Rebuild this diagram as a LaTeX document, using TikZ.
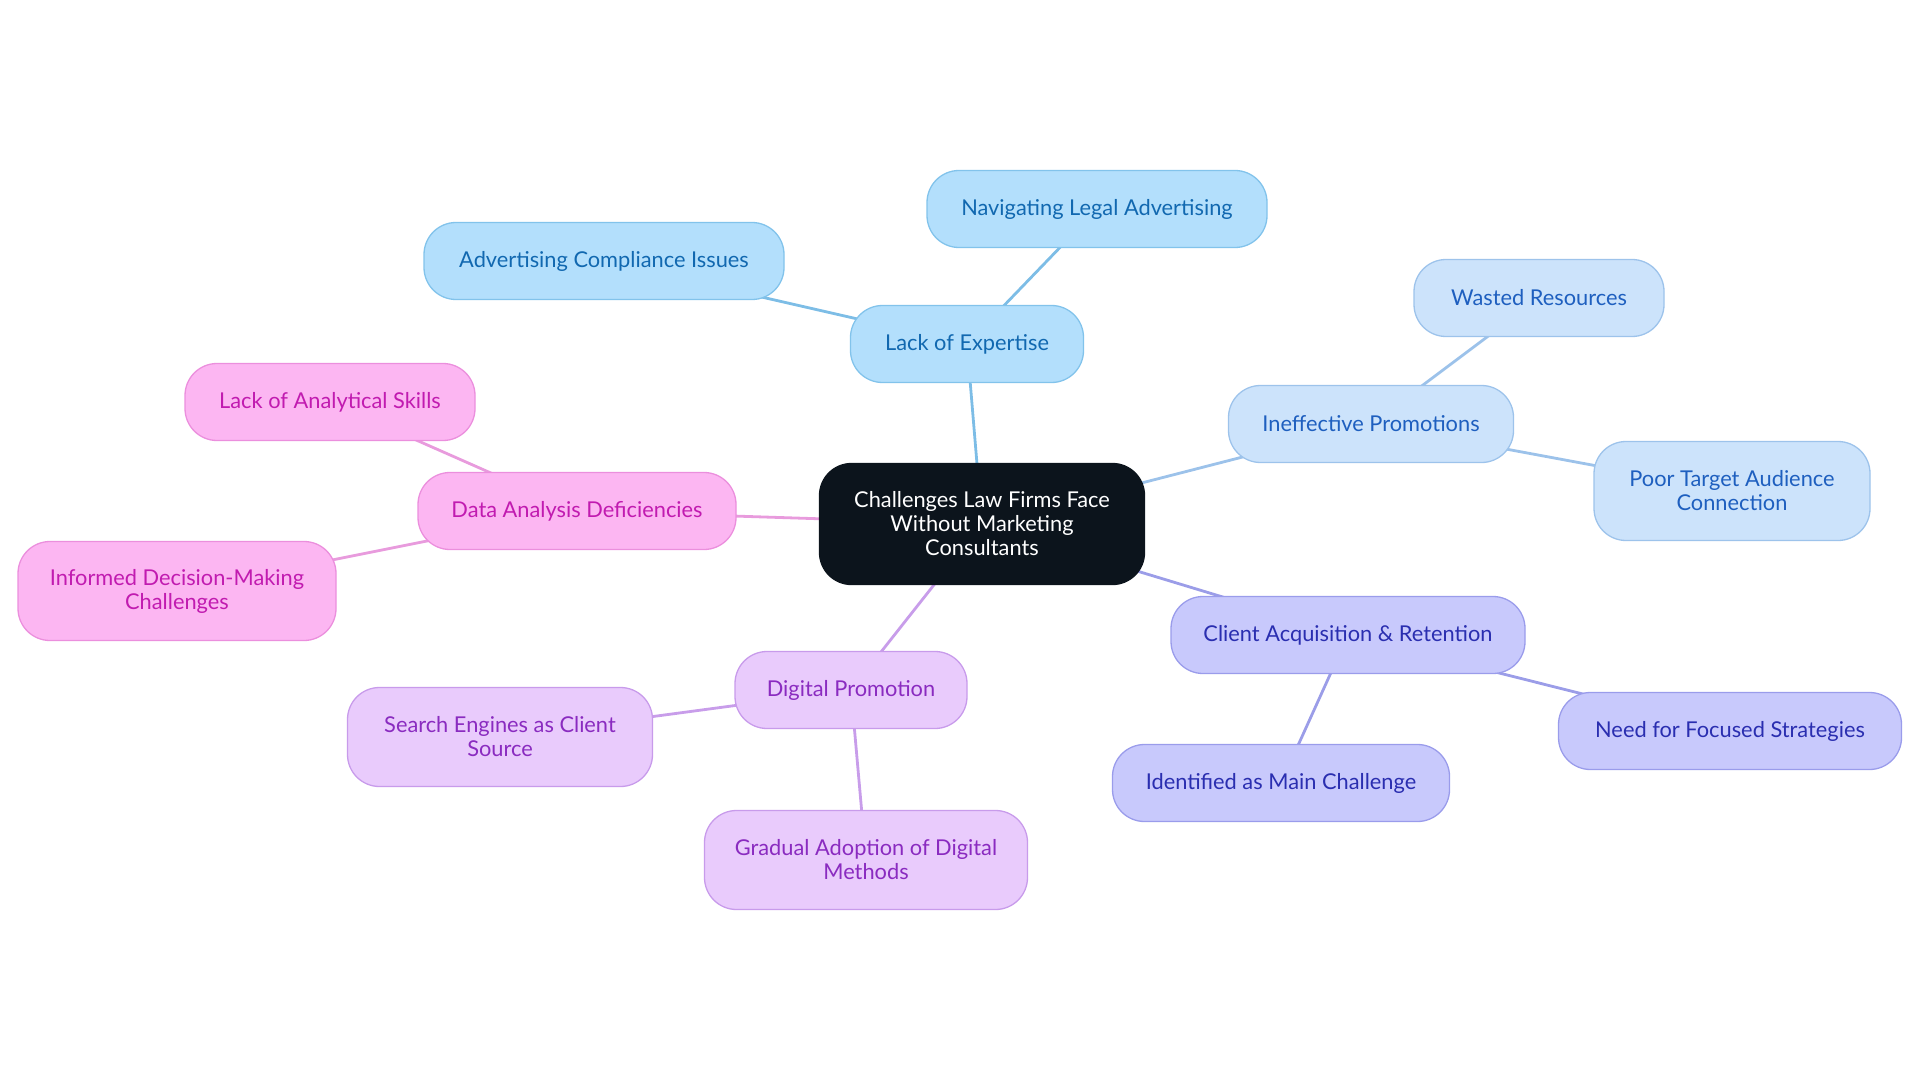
\documentclass[tikz,border=0pt]{standalone}
\usepackage{fontspec}
\setmainfont{Lato}
\usetikzlibrary{backgrounds}
\definecolor{cfill}{HTML}{0C141C}
\definecolor{bfill}{HTML}{B3DFFC}\definecolor{bdraw}{HTML}{82C3EB}\definecolor{btext}{HTML}{1168B0}\definecolor{bedge}{HTML}{7DBDE6}
\definecolor{lfill}{HTML}{CCE3FB}\definecolor{ldraw}{HTML}{9DC3EB}\definecolor{ltext}{HTML}{1E5FBF}\definecolor{ledge}{HTML}{9CC2EA}
\definecolor{ifill}{HTML}{C8C9FC}\definecolor{idraw}{HTML}{9A9CEB}\definecolor{itext}{HTML}{2A2EB0}\definecolor{iedge}{HTML}{9B9DE8}
\definecolor{vfill}{HTML}{E9CBFC}\definecolor{vdraw}{HTML}{C89BEB}\definecolor{vtext}{HTML}{8A2BC0}\definecolor{vedge}{HTML}{C89DEA}
\definecolor{pfill}{HTML}{FCB6F2}\definecolor{pdraw}{HTML}{EB8FDD}\definecolor{ptext}{HTML}{C11BB0}\definecolor{pedge}{HTML}{E89BDD}
\tikzset{
  box/.style={rectangle, rounded corners=32pt, line width=1.3pt, minimum height=77pt, align=center, inner sep=0pt,
    font=\fontsize{21.8}{24}\selectfont},
  tall/.style={minimum height=99pt},
  bbox/.style={box, fill=bfill, draw=bdraw, text=btext},
  lbox/.style={box, fill=lfill, draw=ldraw, text=ltext},
  ibox/.style={box, fill=ifill, draw=idraw, text=itext},
  vbox/.style={box, fill=vfill, draw=vdraw, text=vtext},
  pbox/.style={box, fill=pfill, draw=pdraw, text=ptext},
  link/.style={line width=2.8pt},
}
\begin{document}
\begin{tikzpicture}[x=1pt,y=-1pt]
\useasboundingbox (0,0) rectangle (1920,1083);
\node[box, fill=cfill, draw=cfill, text=white, minimum width=325pt, minimum height=121pt] (c) at (982,524) {Challenges Law Firms Face\\Without Marketing\\Consultants};
\node[bbox, minimum width=233pt] (le) at (967,344) {Lack of Expertise};
\node[bbox, minimum width=340pt] (nl) at (1097,209) {Navigating Legal Advertising};
\node[bbox, minimum width=360pt] (ac) at (604,261) {Advertising Compliance Issues};
\node[lbox, minimum width=285pt] (ip) at (1371,424) {Ineffective Promotions};
\node[lbox, minimum width=250pt] (wr) at (1539,298) {Wasted Resources};
\node[lbox, tall, minimum width=276pt] (pt) at (1732,491) {Poor Target Audience\\Connection};
\node[ibox, minimum width=354pt] (ca) at (1348,635) {Client Acquisition \& Retention};
\node[ibox, minimum width=343pt] (nf) at (1730,731) {Need for Focused Strategies};
\node[ibox, minimum width=337pt] (im) at (1281,783) {Identified as Main Challenge};
\node[vbox, minimum width=232pt] (dp) at (851,690) {Digital Promotion};
\node[vbox, tall, minimum width=305pt] (se) at (500,737) {Search Engines as Client\\Source};
\node[vbox, tall, minimum width=323pt] (ga) at (866,860) {Gradual Adoption of Digital\\Methods};
\node[pbox, minimum width=318pt] (da) at (577,511) {Data Analysis Deficiencies};
\node[pbox, minimum width=290pt] (la) at (330,402) {Lack of Analytical Skills};
\node[pbox, tall, minimum width=318pt] (id) at (177,591) {Informed Decision-Making\\Challenges};
\begin{pgfonlayer}{background}
\draw[link, bedge] (c.center) -- (le.center);
\draw[link, bedge] (le.center) -- (nl.center);
\draw[link, bedge] (le.center) -- (ac.center);
\draw[link, ledge] (c.center) -- (ip.center);
\draw[link, ledge] (ip.center) -- (wr.center);
\draw[link, ledge] (ip.center) -- (pt.center);
\draw[link, iedge] (c.center) -- (ca.center);
\draw[link, iedge] (ca.center) -- (nf.center);
\draw[link, iedge] (ca.center) -- (im.center);
\draw[link, vedge] (c.center) -- (dp.center);
\draw[link, vedge] (dp.center) -- (se.center);
\draw[link, vedge] (dp.center) -- (ga.center);
\draw[link, pedge] (c.center) -- (da.center);
\draw[link, pedge] (da.center) -- (la.center);
\draw[link, pedge] (da.center) -- (id.center);
\end{pgfonlayer}
\end{tikzpicture}
\end{document}
